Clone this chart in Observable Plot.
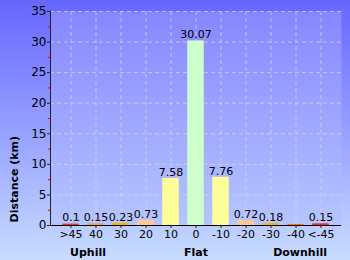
<!DOCTYPE html>
<html><head><meta charset="utf-8">
<script src="https://cdn.jsdelivr.net/npm/d3@7"></script>
<script src="https://cdn.jsdelivr.net/npm/@observablehq/plot@0.6"></script>
<style>
html,body{margin:0;padding:0;}
body{width:350px;height:260px;overflow:hidden;}
</style></head>
<body><div id="chart"></div>
<script>
const categories = [">45","40","30","20","10","0","-10","-20","-30","-40","<-45"];
const distances = [0.1,0.15,0.23,0.73,7.58,30.07,7.76,0.72,0.18,0.05,0.15];
const valueLabels = ["0.1","0.15","0.23","0.73","7.58","30.07","7.76","0.72","0.18","","0.15"];
const barColors = ["#f02828","#ff9a33","#ffb000","#ffc896","#ffff99","#ccffcc","#ffff99","#ffc896","#ffb000","#ff6a10","#f02828"];
const yTicks = [0,5,10,15,20,25,30,35];
const yMinorTicks = [2.5,7.5,12.5,17.5,22.5,27.5,32.5];
const groupLabels = ["Uphill","Flat","Downhill"];
const groupAt = [">45","0","<-45"];
const yLabel = "Distance (km)";

const data = categories.map((c,i)=>({cat:c, v:distances[i], label:valueLabels[i], color:barColors[i]}));
const groups = groupLabels.map((g,i)=>({g, at:groupAt[i]}));

const font = "DejaVu Sans, Verdana, sans-serif";
const groupText = (i, anchor, dx) => Plot.text([groups[i]], {x: "at", text: "g", frameAnchor: "bottom", dy: 30, dx, textAnchor: anchor, fontWeight: "bold", fontSize: 11});
const svg = Plot.plot({
  width: 350, height: 260,
  marginLeft: 50, marginRight: 9, marginTop: 11, marginBottom: 35,
  style: {background: "linear-gradient(to bottom, #6666ff 0%, #9aa6ff 55%, #c8dcff 100%)", fontFamily: font, fontSize: "11px", color: "#000"},
  x: {domain: categories, padding: 0.4, label: null},
  y: {domain: [0,35], label: null},
  color: {type: "identity"},
  marks: [
    Plot.frame({fill: "url(#plotgrad)", stroke: null}),
    Plot.gridY(yTicks.slice(1), {stroke: "#d8d8f0", strokeOpacity: 0.7, strokeDasharray: "4,3"}),
    Plot.gridX(categories, {stroke: "#d8d8f0", strokeOpacity: 0.7, strokeDasharray: "4,3"}),
    Plot.barY(data, {x: "cat", y: "v", fill: "color", stroke: "color", strokeWidth: 1.5}),
    Plot.text(data, {x: "cat", y: "v", text: "label", dy: -7, fill: "#000", fontSize: 11}),
    Plot.frame({anchor: "left", stroke: "#222"}),
    Plot.ruleY([0], {stroke: "#000"}),
    Plot.axisY(yTicks, {tickSize: 3, tickPadding: 1, fontSize: 12, stroke: "#222", label: null}),
    Plot.axisY(yMinorTicks, {tickSize: 2, stroke: "#ff0000", tickFormat: () => "", label: null}),
    Plot.axisX(categories, {tickSize: 3, tickPadding: 2, fontSize: 11, stroke: "#222", label: null}),
    groupText(0, "start", -1),
    groupText(1, "middle", 0),
    groupText(2, "end", 6),
    Plot.text([yLabel], {text: d => d, frameAnchor: "bottom-left", rotate: -90, textAnchor: "start", dx: -33, dy: -3, fontWeight: "bold", fontSize: 11})
  ]
});
const defs = d3.select(svg).insert("defs", ":first-child");
const g = defs.append("linearGradient").attr("id","plotgrad").attr("x1",0).attr("y1",0).attr("x2",0).attr("y2",1);
g.append("stop").attr("offset","0%").attr("stop-color","#8686ff");
g.append("stop").attr("offset","100%").attr("stop-color","#b6c6ff");
document.getElementById("chart").appendChild(svg);
</script></body></html>
